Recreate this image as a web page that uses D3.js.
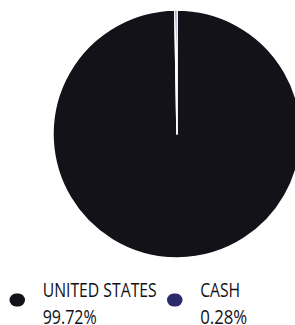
<!DOCTYPE html>
<html><head><meta charset="utf-8">
<script src="https://cdn.jsdelivr.net/npm/d3@7/dist/d3.min.js"></script>
<style>html,body{margin:0;padding:0;background:#fff;overflow:hidden}</style>
</head><body>
<svg id="c" width="295" height="325"></svg>
<script>
const categories = ["UNITED STATES", "CASH"];
const values = [99.72, 0.28];
const labels = ["99.72%", "0.28%"];
const colors = ["#121218", "#2b2b6b"];

const svg = d3.select("#c");
const cx = 177, cy = 134, r = 124;
const pie = d3.pie().sort(null).value(d => d)(values);
const arc = d3.arc().innerRadius(0).outerRadius(r);
const g = svg.append("g").attr("transform", `translate(${cx},${cy})`);
g.selectAll("path").data(pie).enter().append("path")
  .attr("d", arc).attr("fill", (d, i) => colors[i])
  .attr("stroke", "#fff").attr("stroke-width", 1.5).attr("stroke-linejoin", "round");

const legX = d3.scaleOrdinal().domain(categories).range([9.5, 167]);
const nameW = [114, 40], valW = [54, 47];
const lg = svg.append("g");
categories.forEach((c, i) => {
  const x = legX(c);
  lg.append("rect").attr("x", x).attr("y", 293.5).attr("width", 15.5).attr("height", 13)
    .attr("rx", 6.5).attr("ry", 6.5).attr("fill", colors[i]);
  const tx = x + 33.2;
  lg.append("text").attr("x", tx).attr("y", 296.7).attr("font-family", "Open Sans")
    .attr("font-size", 20.5).attr("fill", "#121218")
    .attr("textLength", nameW[i]).attr("lengthAdjust", "spacingAndGlyphs").text(c);
  lg.append("text").attr("x", tx).attr("y", 324).attr("font-family", "Open Sans")
    .attr("font-size", 20.5).attr("fill", "#121218")
    .attr("textLength", valW[i]).attr("lengthAdjust", "spacingAndGlyphs").text(labels[i]);
});
</script>
</body></html>
